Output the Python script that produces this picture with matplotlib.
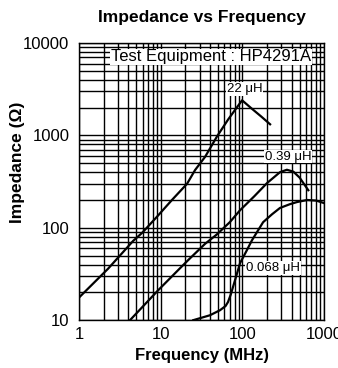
import matplotlib
matplotlib.use('Agg')
import matplotlib.pyplot as plt
import numpy as np
from matplotlib.ticker import LogLocator, FixedLocator, NullFormatter

plt.rcParams['font.family'] = ['Liberation Sans', 'DejaVu Sans']

# 22 uH
f_22 = [1, 2.26, 4.58, 5.9, 9.0, 13.7, 21, 26.3, 34.8, 48.8, 66.5, 85, 99, 130, 170, 218]
z_22 = [17.6, 36, 72, 88, 132, 200, 300, 422, 585, 975, 1480, 2000, 2400, 1950, 1600, 1320]

# 0.39 uH
f_039 = [4.2, 9.3, 17.2, 21.6, 34.8, 48, 70, 93.5, 140, 200, 288, 350, 420, 500, 640]
z_039 = [10, 21.1, 36.5, 44.6, 67, 84, 115, 155, 220, 305, 400, 425, 405, 350, 255]

# 0.068 uH
f_068 = [25, 40, 53, 62, 66.5, 72, 81, 93.5, 113, 131, 179, 230, 288, 380, 466, 620, 800, 1000]
z_068 = [10, 11.3, 12.8, 14.2, 15.7, 19, 27, 41.5, 57, 73.5, 115, 140, 164, 180, 190, 200, 197, 185]

labels = ['22 μH', '0.39 μH', '0.068 μH']
label_pos = [(107, 3170), (361, 590), (237, 36.6)]

fig = plt.figure(figsize=(3.38, 3.68), dpi=100)
ax = fig.add_axes([0.234, 0.130, 0.725, 0.753])
ax.set_xscale('log')
ax.set_yscale('log')
ax.set_xlim(1, 1000)
ax.set_ylim(10, 10000)

ax.xaxis.set_major_locator(FixedLocator([1, 10, 100, 1000]))
ax.yaxis.set_major_locator(FixedLocator([10, 100, 1000, 10000]))
ax.xaxis.set_minor_locator(LogLocator(base=10, subs=np.arange(2, 10)))
ax.yaxis.set_minor_locator(LogLocator(base=10, subs=np.arange(2, 10)))
ax.xaxis.set_minor_formatter(NullFormatter())
ax.yaxis.set_minor_formatter(NullFormatter())
ax.set_xticklabels(['1', '10', '100', '1000'])
ax.set_yticklabels(['10', '100', '1000', '10000'])
ax.tick_params(which='both', length=0, labelsize=12)
ax.tick_params(axis='y', pad=7)
ax.tick_params(axis='x', pad=5)
ax.grid(which='both', color='black', lw=1.0)
for s in ax.spines.values():
    s.set_linewidth(1.0)

for f, z in [(f_22, z_22), (f_039, z_039), (f_068, z_068)]:
    ax.plot(f, z, color='black', lw=1.6, zorder=3)

box = dict(facecolor='white', edgecolor='none', pad=0.5)
ax.text(41.3, 7100, 'Test Equipment : HP4291A', ha='center', va='center',
        fontsize=12, bbox=box, zorder=4)
for t, (x, y) in zip(labels, label_pos):
    ax.text(x, y, t, ha='center', va='center', fontsize=9.5, bbox=box, zorder=4)

ax.set_title('Impedance vs Frequency', fontsize=12.5, fontweight='bold', pad=15)
ax.set_xlabel('Frequency (MHz)', fontsize=12, fontweight='bold', labelpad=4)
ax.set_ylabel('Impedance (Ω)', fontsize=12.5, fontweight='bold')
ax.yaxis.set_label_coords(-0.220, 0.569)

fig.savefig('out.png', dpi=100)
